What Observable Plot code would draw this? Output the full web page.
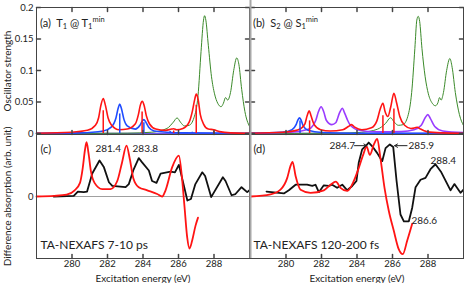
<!DOCTYPE html>
<html><head><meta charset="utf-8">
<script src="https://cdn.jsdelivr.net/npm/d3@7"></script>
<script src="https://cdn.jsdelivr.net/npm/@observablehq/plot@0.6"></script>
<style>
body{margin:0;background:#fff;}
#c{position:relative;width:464px;height:283px;overflow:hidden;font-family:Lato,sans-serif;color:#222;}
#c svg{position:absolute;overflow:visible;}
.t{position:absolute;font-size:11px;line-height:11px;white-space:nowrap;}
.t .sb{font-size:7.5px;position:relative;top:2px;}
.t .sp{font-size:7.5px;position:relative;top:-5px;}
</style></head><body><div id="c">
<div class="t" style="left:40px;top:17px">(a)&nbsp; T<span class="sb">1</span> @ T<span class="sb">1</span><span class="sp">min</span></div>
<div class="t" style="left:253px;top:17px">(b)&nbsp; S<span class="sb">2</span> @ S<span class="sb">1</span><span class="sp">min</span></div>
</div>
<script>
// ---------------- data ----------------
const xDomain = [278, 290];
const xTicks = [280, 282, 284, 286, 288];
const topYTicks = [0, 0.05, 0.1, 0.15, 0.2];
const topDomain = [-0.0016, 0.2];
const botYTicks = [0];
const botDomain = [-1, 1];

// panel (a) T1 @ T1min : [energy eV, oscillator strength]
const aRed = [[278.0,0.0005],[279.97,0.002],[280.87,0.005],[281.32,0.013],[281.5,0.025],[281.63,0.045],[281.76,0.0556],[281.88,0.045],[282.03,0.025],[282.21,0.014],[282.66,0.006],[283.11,0.007],[283.56,0.015],[283.74,0.03],[283.85,0.045],[283.96,0.051],[284.06,0.045],[284.19,0.028],[284.37,0.015],[284.72,0.007],[285.26,0.005],[285.62,0.007],[285.73,0.0075],[285.89,0.006],[286.25,0.008],[286.6,0.018],[286.78,0.035],[286.92,0.055],[287.0,0.0625],[287.1,0.055],[287.23,0.03],[287.41,0.015],[287.68,0.007],[287.99,0.006],[288.31,0.003],[288.93,0.001],[290.0,0.0005]];
const aBlue = [[278.0,0.0003],[280.42,0.001],[281.77,0.004],[282.21,0.01],[282.48,0.025],[282.6,0.04],[282.69,0.0467],[282.78,0.04],[282.93,0.022],[283.11,0.012],[283.56,0.007],[283.83,0.013],[283.96,0.02],[284.05,0.022],[284.14,0.019],[284.32,0.01],[284.63,0.004],[285.35,0.002],[286.25,0.001],[290.0,0.0003]];
const aGreen = [[278.0,0],[283.11,0.0005],[284.46,0.002],[285.35,0.008],[285.71,0.018],[285.92,0.0247],[286.11,0.018],[286.33,0.012],[286.6,0.013],[286.87,0.025],[287.1,0.06],[287.27,0.13],[287.41,0.18],[287.47,0.187],[287.54,0.18],[287.68,0.14],[287.86,0.09],[288.03,0.063],[288.21,0.048],[288.4,0.0425],[288.53,0.048],[288.65,0.057],[288.77,0.053],[288.93,0.065],[289.11,0.1],[289.28,0.12],[289.4,0.11],[289.56,0.07],[289.74,0.035],[290.0,0.011]];
const aRedSticks = [[281.76,0.036],[283.95,0.034],[287.0,0.045],[285.73,0.004],[287.99,0.003]];
const aBlueSticks = [[282.69,0.031],[284.05,0.017],[285.53,0.003],[286.78,0.002]];

// panel (b) S2 @ S1min
const bBlue = [[278.0,0.0003],[279.81,0.002],[280.34,0.006],[280.57,0.014],[280.68,0.022],[280.76,0.025],[280.84,0.022],[280.97,0.012],[281.24,0.005],[282.04,0.0015],[283.83,0.0005],[290.0,0.0002]];
const bRed = [[278.0,0.0005],[279.81,0.002],[280.7,0.006],[281.06,0.015],[281.19,0.028],[281.31,0.036],[281.41,0.028],[281.59,0.014],[281.95,0.006],[282.49,0.004],[283.2,0.006],[283.51,0.011],[283.69,0.014],[283.87,0.01],[284.27,0.006],[284.81,0.009],[285.12,0.02],[285.3,0.038],[285.46,0.048],[285.58,0.035],[285.74,0.027],[285.9,0.042],[286.08,0.064],[286.22,0.05],[286.41,0.027],[286.68,0.013],[287.04,0.008],[287.26,0.009],[287.4,0.01],[287.58,0.007],[287.93,0.003],[288.74,0.001],[290.0,0.0004]];
const bPurple = [[278.0,0.0005],[280.25,0.002],[281.15,0.006],[281.41,0.009],[281.68,0.021],[281.82,0.034],[281.98,0.0425],[282.13,0.034],[282.27,0.021],[282.58,0.014],[282.8,0.017],[283.02,0.033],[283.17,0.04],[283.31,0.032],[283.47,0.021],[283.6,0.014],[283.8,0.009],[284.0,0.006],[285.17,0.0025],[286.5,0.003],[287.22,0.006],[287.62,0.013],[287.84,0.025],[287.99,0.03],[288.13,0.024],[288.38,0.011],[288.83,0.004],[290.0,0.0015]];
const bGreen = [[278.0,0],[282.93,0.0005],[284.27,0.002],[285.17,0.007],[285.61,0.016],[285.89,0.025],[286.1,0.018],[286.33,0.013],[286.59,0.014],[286.86,0.027],[287.08,0.065],[287.26,0.135],[287.37,0.18],[287.45,0.186],[287.53,0.178],[287.66,0.135],[287.84,0.09],[288.02,0.063],[288.24,0.048],[288.42,0.044],[288.56,0.049],[288.65,0.057],[288.74,0.053],[288.87,0.065],[289.05,0.1],[289.23,0.119],[289.36,0.105],[289.54,0.065],[289.77,0.03],[290.0,0.0126]];
const bRedSticks = [[281.33,0.02],[285.46,0.028],[286.08,0.039]];
const bBlueSticks = [[280.79,0.02]];

// panel (c) TA-NEXAFS 7-10 ps : [energy eV, difference absorption]
const cRed = [[278.0,0.0],[279.0,0.01],[279.7,0.03],[280.15,0.1],[280.45,0.22],[280.6,0.45],[280.73,0.75],[280.82,0.875],[280.93,0.7],[281.07,0.4],[281.27,0.22],[281.7,0.12],[282.17,0.12],[282.55,0.25],[282.82,0.55],[283.07,0.82],[283.26,0.6],[283.45,0.3],[283.76,0.15],[284.24,0.1],[284.8,0.04],[285.08,0.0],[285.27,0.1],[285.64,0.47],[286.02,0.66],[286.21,0.26],[286.34,-0.17],[286.49,-0.66],[286.62,-0.84],[286.77,-0.71],[286.96,-0.47],[287.1,-0.34]];
const cBlack = [[278.97,0.0],[280.1,0.01],[280.33,0.08],[280.66,0.07],[280.85,0.08],[281.14,0.37],[281.55,0.58],[281.8,0.47],[282.08,0.23],[282.27,0.17],[283.02,0.15],[283.2,0.2],[283.45,0.42],[283.76,0.62],[283.95,0.55],[284.33,0.42],[284.51,0.25],[284.76,0.22],[284.99,0.37],[285.55,0.4],[285.8,0.39],[286.02,0.51],[286.2,0.3],[286.5,-0.065],[286.7,-0.04],[286.95,0.2],[287.34,0.39],[287.5,0.33],[287.84,-0.01],[288.5,0.31],[288.65,0.25],[288.99,0.02],[289.21,0.04],[289.55,0.15],[289.87,0.07],[290.0,0.1]];
const cLabels = [["281.4",281.32,0.77],["283.8",283.41,0.77]];

// panel (d) TA-NEXAFS 120-200 fs
const dRed = [[278.0,0],[279.13,0.035],[279.69,0.11],[280.07,0.3],[280.25,0.49],[280.37,0.56],[280.54,0.33],[280.82,0.11],[281.38,0.06],[282.13,0.1],[282.51,0.19],[282.81,0.24],[283.07,0.14],[283.45,0.09],[283.82,0.25],[284.1,0.46],[284.38,0.7],[284.54,0.81],[284.72,0.67],[284.95,0.84],[285.14,0.93],[285.32,0.62],[285.55,0.14],[285.79,-0.23],[286.07,-0.55],[286.35,-0.85],[286.58,-0.93],[286.83,-0.71],[287.11,-0.44]];
const dBlack = [[278.9,0.08],[279.88,0.05],[280.16,0.1],[280.54,0.19],[281.19,0.19],[281.48,0.17],[281.66,0.19],[281.85,0.07],[282.13,0.18],[282.41,0.17],[282.6,0.19],[282.88,0.14],[283.17,0.19],[283.45,0.1],[283.73,0.17],[283.97,0.25],[284.1,0.55],[284.29,0.76],[284.48,0.81],[284.66,0.87],[284.86,0.81],[285.14,0.7],[285.42,0.57],[285.61,0.78],[285.85,0.84],[286.04,0.8],[286.23,0.25],[286.45,-0.29],[286.64,-0.4],[286.92,-0.4],[287.11,-0.18],[287.3,0.15],[287.58,0.27],[287.86,0.3],[288.14,0.44],[288.42,0.52],[288.75,0.39],[289.27,0.1],[289.49,0.2],[289.83,0.06],[290.0,0.11]];
const dLabels = [["284.7",282.45,0.82],["285.9",286.9,0.82],["288.4",288.14,0.58],["286.6",287.07,-0.39]];
const dArrows = [[283.86,284.55,0.82],[286.82,286.12,0.82]];

// ---------------- drawing ----------------
const FONT = "Lato, sans-serif";
const C = {red:"#ff1414", blue:"#1f4cff", green:"#3b8a2a", purple:"#9a3cff", black:"#111", frame:"#444", base:"#6a52e8"};
const root = document.getElementById("c");
const rows = a => a.map(([e, v]) => ({e, v}));
const labs = a => a.map(([t, e, v]) => ({t, e, v}));
const fmt = d => String(d);
const tickShape = {draw(ctx, l) { ctx.moveTo(0, 0); ctx.lineTo(0, -l); }};
const ticksX = side => Plot.vector(xTicks, {x: d => d, frameAnchor: side, length: 4, rotate: side === "bottom" ? 0 : 180, anchor: "start", shape: tickShape, stroke: C.frame});
const ticksY = (vals, side) => Plot.vector(vals, {y: d => d, frameAnchor: side, length: 4, rotate: side === "left" ? 90 : -90, anchor: "start", shape: tickShape, stroke: C.frame});
const curve = (data, stroke, w) => Plot.line(rows(data), {x: "e", y: "v", stroke, strokeWidth: w, curve: "monotone-x"});
const poly = (data, stroke, w) => Plot.line(rows(data), {x: "e", y: "v", stroke, strokeWidth: w, strokeLinejoin: "round"});
const sticks = (data, stroke) => Plot.ruleX(rows(data), {x: "e", y1: 0, y2: "v", stroke, strokeWidth: 1.5});
const yTitle = s => Plot.text([s], {text: d => d, frameAnchor: "left", textAnchor: "middle", lineAnchor: "middle", dx: -29, rotate: -90, fontSize: 10});
const xTitle = s => Plot.text([s], {text: d => d, frameAnchor: "bottom", textAnchor: "middle", lineAnchor: "middle", dy: 20, fontSize: 10});

function mount(svg, left, top) { svg.style.left = left + "px"; svg.style.top = top + "px"; root.appendChild(svg); }
function base(w, h, mL, mT, mB, yDom) {
  return {width: w, height: h, marginLeft: mL, marginRight: 1, marginTop: mT, marginBottom: mB,
    style: {fontFamily: FONT, fontSize: "9.5px", color: "#222", background: "transparent", overflow: "visible"},
    x: {domain: xDomain, label: null}, y: {domain: yDom, label: null}};
}

// (a)
mount(Plot.plot({...base(250, 135, 36, 7, 1, topDomain), x: {domain: xDomain, axis: null, label: null},
  marks: [
    Plot.ruleY([0], {stroke: C.base, strokeWidth: 1.5}),
    curve(aGreen, C.green, 1),
    curve(aBlue, C.blue, 1.6),
    curve(aRed, C.red, 1.6),
    sticks(aBlueSticks, C.blue),
    sticks(aRedSticks, C.red),
    Plot.frame({stroke: C.frame}),
    ticksX("top"), ticksX("bottom"), ticksY(topYTicks, "left"), ticksY(topYTicks, "right"),
    Plot.axisY(topYTicks, {anchor: "left", tickSize: 0, tickPadding: 3, tickFormat: fmt, label: null}),
    yTitle("Oscillator strength")
  ]}), 0, 0);

// (b)
mount(Plot.plot({...base(214, 135, 0, 7, 1, topDomain), x: {domain: xDomain, axis: null, label: null}, y: {domain: topDomain, axis: null, label: null},
  marks: [
    Plot.ruleY([0], {stroke: C.base, strokeWidth: 1.5}),
    curve(bGreen, C.green, 1),
    curve(bPurple, C.purple, 1.6),
    curve(bBlue, C.blue, 1.6),
    curve(bRed, C.red, 1.6),
    sticks(bBlueSticks, C.blue),
    sticks(bRedSticks, C.red),
    Plot.frame({stroke: C.frame}),
    ticksX("top"), ticksX("bottom"), ticksY(topYTicks, "left"), ticksY(topYTicks, "right")
  ]}), 250, 0);

// (c)
mount(Plot.plot({...base(250, 149, 36, 0, 25, botDomain),
  marks: [
    Plot.ruleY([0], {stroke: "#888", strokeWidth: 0.8}),
    poly(cBlack, C.black, 1.8),
    curve(cRed, C.red, 1.8),
    Plot.frame({stroke: C.frame}),
    ticksX("bottom"),
    Plot.axisX(xTicks, {anchor: "bottom", tickSize: 0, tickPadding: 2, tickFormat: fmt, label: null}),
    Plot.axisY(botYTicks, {anchor: "left", tickSize: 0, tickPadding: 3, tickFormat: fmt, label: null}),
    Plot.text(labs(cLabels), {x: "e", y: "v", text: "t", textAnchor: "start", fontSize: 10}),
    Plot.text(["(c)"], {text: d => d, frameAnchor: "top-left", dx: 4, dy: 11, textAnchor: "start", fontSize: 11}),
    Plot.text(["TA-NEXAFS 7-10 ps"], {text: d => d, frameAnchor: "bottom-left", dx: 4, dy: -10, textAnchor: "start", fontSize: 12}),
    xTitle("Excitation energy (eV)"),
    yTitle("Difference absorption (arb. unit)")
  ]}), 0, 134);

// (d)
mount(Plot.plot({...base(214, 149, 0, 0, 25, botDomain), y: {domain: botDomain, axis: null, label: null},
  marks: [
    Plot.ruleY([0], {stroke: "#888", strokeWidth: 0.8}),
    poly(dBlack, C.black, 1.8),
    curve(dRed, C.red, 1.8),
    Plot.frame({stroke: C.frame}),
    ticksX("bottom"),
    Plot.axisX(xTicks, {anchor: "bottom", tickSize: 0, tickPadding: 2, tickFormat: fmt, label: null}),
    Plot.text(labs(dLabels), {x: "e", y: "v", text: "t", textAnchor: "start", fontSize: 10}),
    Plot.arrow(dArrows.map(([e1, e2, v]) => ({e1, e2, v})), {x1: "e1", x2: "e2", y1: "v", y2: "v", stroke: "#222", strokeWidth: 1, headLength: 5}),
    Plot.text(["(d)"], {text: d => d, frameAnchor: "top-left", dx: 3, dy: 11, textAnchor: "start", fontSize: 11}),
    Plot.text(["TA-NEXAFS 120-200 fs"], {text: d => d, frameAnchor: "bottom-left", dx: 3, dy: -10, textAnchor: "start", fontSize: 12}),
    xTitle("Excitation energy (eV)")
  ]}), 250, 134);

// grey separator between the left and right panels
mount(Plot.plot({...base(214, 258, 0, 0, 0, botDomain), x: {domain: xDomain, axis: null, label: null}, y: {domain: botDomain, axis: null, label: null},
  marks: [Plot.ruleX([xDomain[0]], {stroke: "#a8a8a8", strokeWidth: 2})]}), 250, 0);
</script></body></html>
